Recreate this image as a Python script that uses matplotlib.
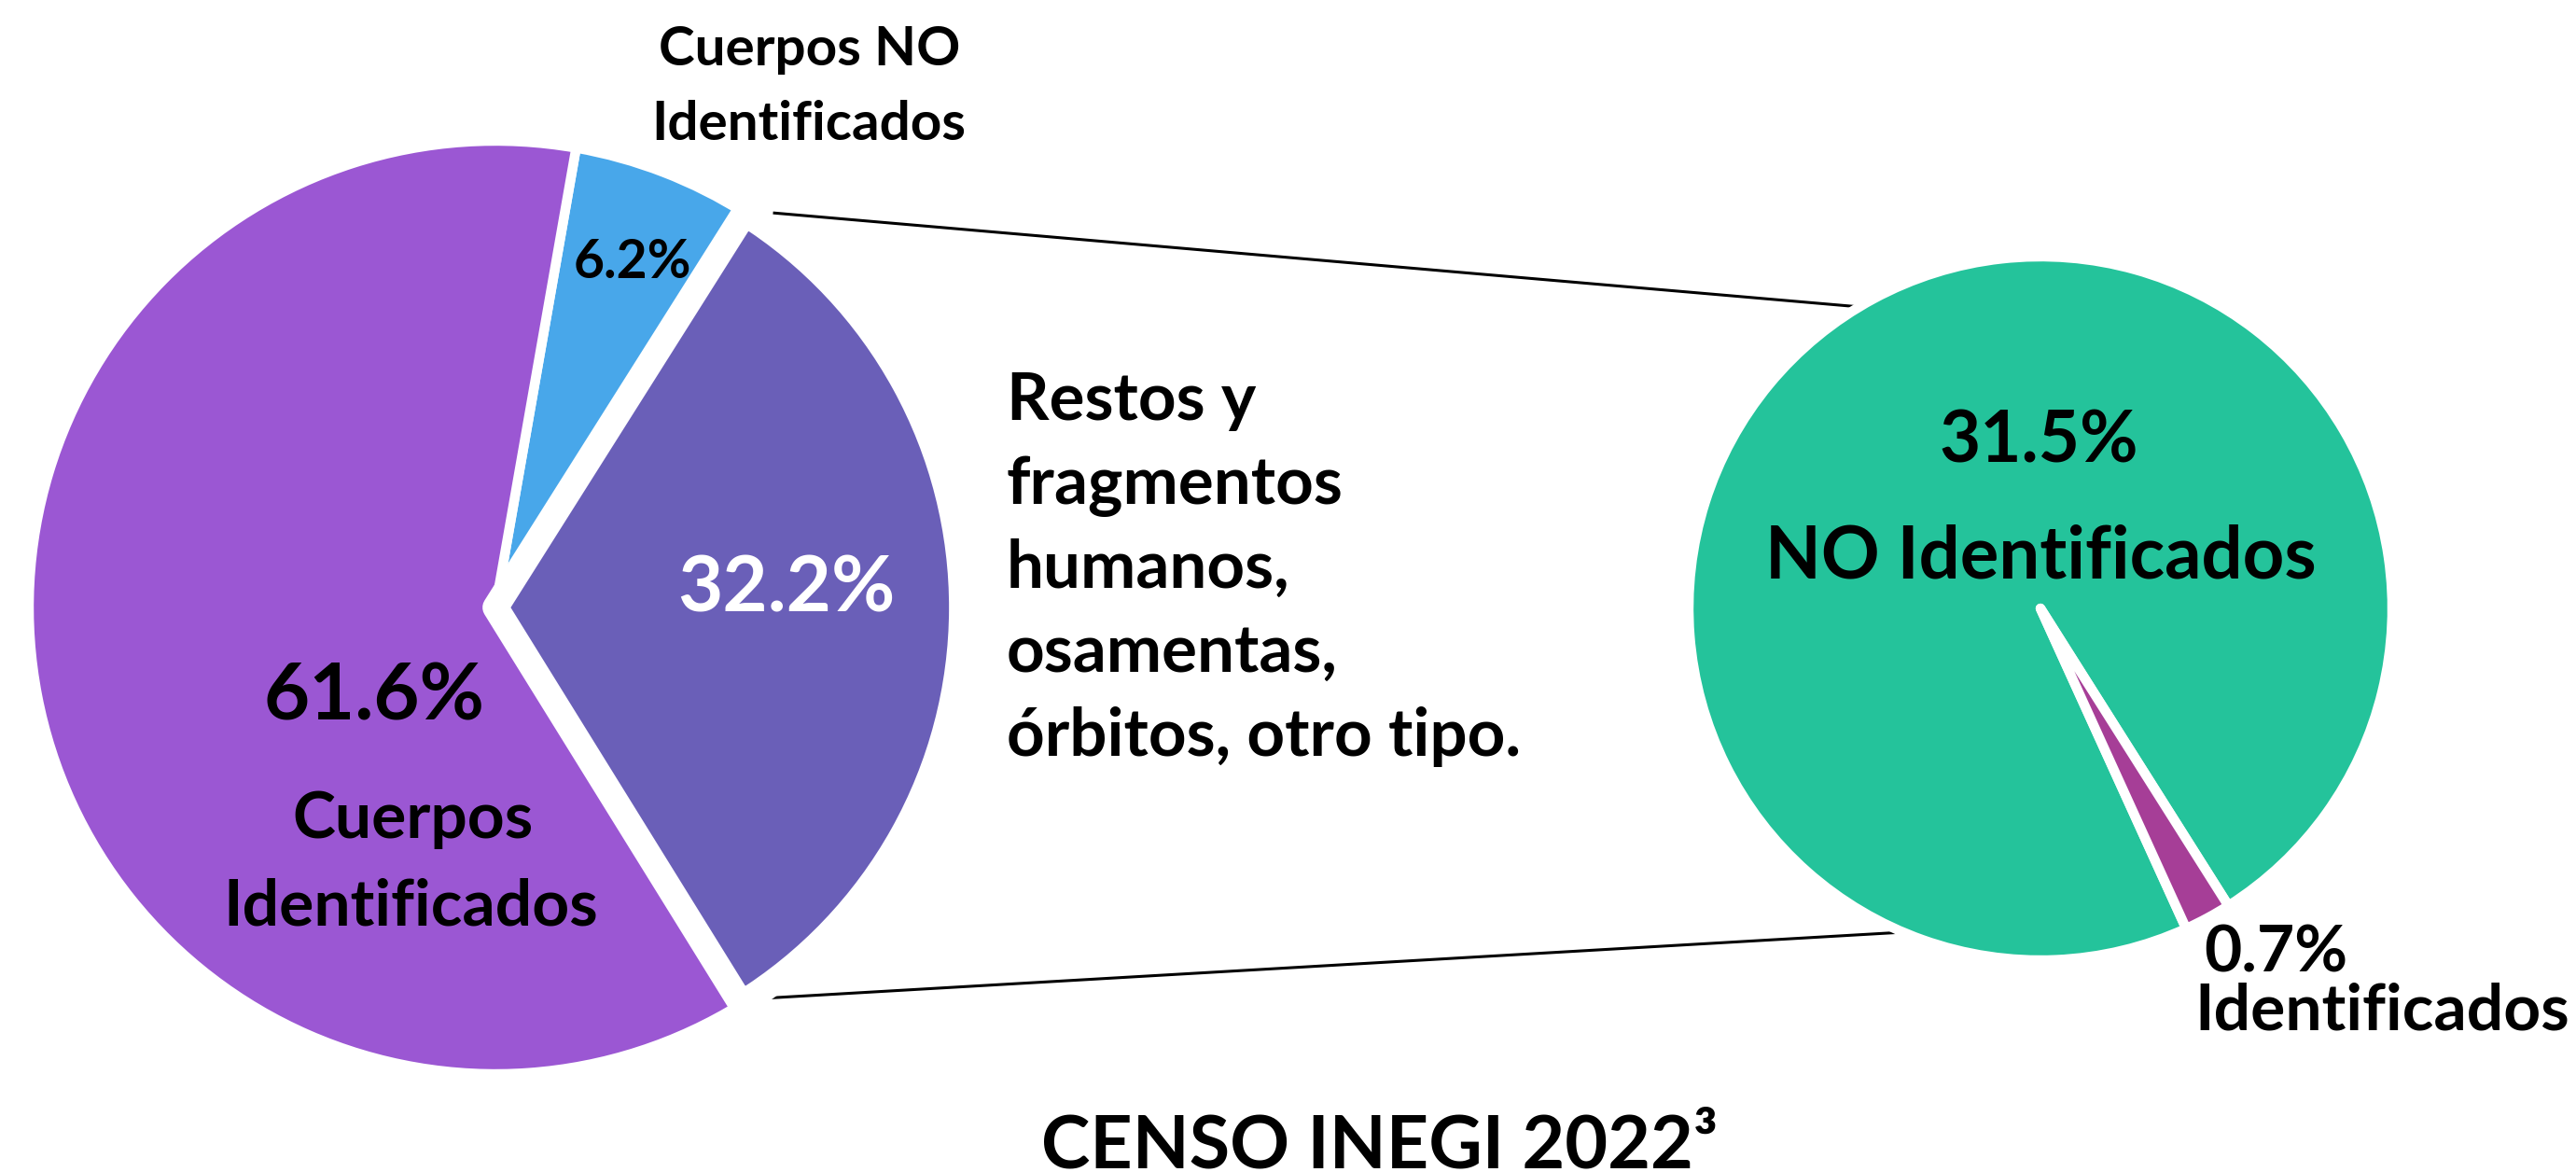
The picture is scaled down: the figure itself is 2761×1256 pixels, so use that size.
import numpy as np
import matplotlib
matplotlib.use("Agg")
import matplotlib.pyplot as plt

plt.rcParams['font.family'] = ['Lato', 'DejaVu Sans']
plt.rcParams['font.weight'] = 'bold'

# data: main pie (percent of total) and the split of "Restos y fragmentos"
main_labels = ['Restos y fragmentos', 'Cuerpos NO Identificados', 'Cuerpos Identificados']
main_values = [32.2, 6.2, 61.6]
main_colors = ['#6A5FB8', '#48A7EA', '#9B57D3']

sub_labels = ['NO Identificados', 'Identificados']
sub_values = [31.5, 0.7]
sub_colors = ['#24C39B', '#A63E97']

title = 'CENSO INEGI 2022³'

W, H = 2761, 1256
fig = plt.figure(figsize=(W / 100, H / 100), dpi=100)
ax = fig.add_axes([0, 0, 1, 1])

wp = dict(edgecolor='white', linewidth=7.5, joinstyle='round')

# left pie
c1, r1 = (531, H - 651), 500
w1, _ = ax.pie(main_values, colors=main_colors, startangle=-58.2,
               explode=[0.035, 0, 0], center=c1, radius=r1,
               wedgeprops=wp, frame=True)
# the split-out slice gets a wider white border, drawn over its neighbours
w1[0].set_linewidth(20)
w1[0].set_zorder(3)

# right pie
c2, r2 = (2187, H - 652), 377
w2, _ = ax.pie(sub_values, colors=sub_colors, startangle=-57.7,
               center=c2, radius=r2, wedgeprops=wp, frame=True)

ax.set_xlim(0, W)
ax.set_ylim(0, H)
ax.set_aspect('equal')
ax.axis('off')

# connector lines from the split-out slice to the second pie
wd = w1[0]
cx, cy = wd.center
for ang_a, ang_b, dx, dy in [(wd.theta2, 121, 32, 0), (wd.theta1, -113, 22, 6)]:
    xa = cx + wd.r * np.cos(np.radians(ang_a)) + dx
    ya = cy + wd.r * np.sin(np.radians(ang_a)) + dy
    xb = c2[0] + r2 * np.cos(np.radians(ang_b))
    yb = c2[1] + r2 * np.sin(np.radians(ang_b))
    ax.plot([xa, xb], [ya, yb], color='black', lw=2.2, zorder=0)


def pct(v):
    return f'{v:.1f}%'


def put(x, y, s, size, color='black', ha='center'):
    ax.text(x, H - y, s, fontsize=size, color=color, ha=ha, va='baseline',
            fontweight='bold', zorder=5)


# left pie texts
put(868, 70, 'Cuerpos NO', 42)
put(867, 150, 'Identificados', 42)
put(678, 298, pct(main_values[1]), 41)
put(843, 656, pct(main_values[0]), 60, color='white')
put(401, 772, pct(main_values[2]), 61)
put(443, 898, 'Cuerpos', 50)
put(440, 991, 'Identificados', 50)

restos = ['Restos y', 'fragmentos', 'humanos,', 'osamentas,', 'órbitos, otro tipo.']
for i, line in enumerate(restos):
    put(1079, 450 + 90 * i, line, 51, ha='left')

# right pie texts
put(2185, 496, pct(sub_values[0]), 55)
put(2187, 619, sub_labels[0], 56)
put(2362, 1042, pct(sub_values[1]), 50, ha='left')
put(2352, 1104, sub_labels[1], 50, ha='left')

put(1479, 1252, title, 57)

fig.savefig('out.png', dpi=100)
